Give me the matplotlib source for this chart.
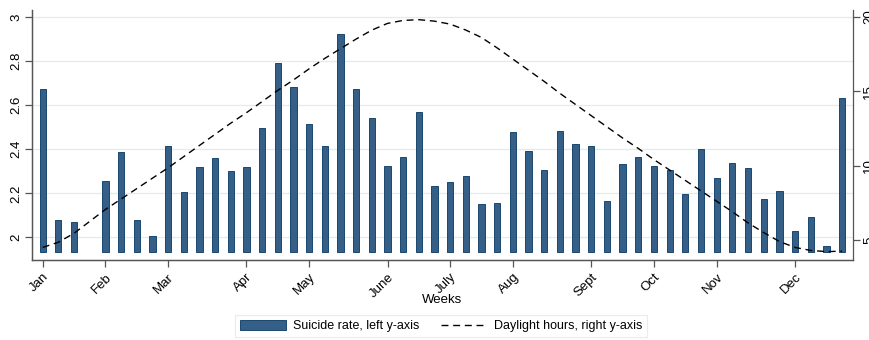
import numpy as np
import matplotlib as mpl
from matplotlib import pyplot as plt
from matplotlib.ticker import FuncFormatter

# weekly series, week 1..52 (week 4 has no value)
weeks = list(range(1, 53))
suicide_rate = [
    2.673, 2.080, 2.071, np.nan, 2.255, 2.389, 2.080, 2.006, 2.414, 2.205,
    2.320, 2.359, 2.300, 2.320, 2.498, 2.794, 2.683, 2.514, 2.415, 2.923,
    2.673, 2.544, 2.326, 2.365, 2.568, 2.235, 2.250, 2.280, 2.150, 2.156,
    2.479, 2.394, 2.305, 2.485, 2.424, 2.415, 2.165, 2.335, 2.365, 2.326,
    2.305, 2.195, 2.400, 2.270, 2.339, 2.315, 2.176, 2.211, 2.027, 2.091,
    1.962, 2.633,
]
daylight_hours = [
    4.50, 4.85, 5.45, 6.25, 7.05, 7.75, 8.45, 9.15, 9.85, 10.60,
    11.35, 12.10, 12.85, 13.55, 14.30, 15.05, 15.75, 16.50, 17.20, 17.85,
    18.50, 19.10, 19.55, 19.75, 19.80, 19.70, 19.50, 19.10, 18.60, 17.90,
    17.15, 16.40, 15.65, 14.85, 14.10, 13.35, 12.60, 11.85, 11.15, 10.40,
    9.70, 9.00, 8.30, 7.60, 6.90, 6.15, 5.50, 4.90, 4.50, 4.30,
    4.22, 4.25,
]
month_weeks = [1, 5, 9, 14, 18, 23, 27, 31, 36, 40, 44, 49]
month_labels = ['Jan', 'Feb', 'Mar', 'Apr', 'May', 'June', 'July', 'Aug',
                'Sept', 'Oct', 'Nov', 'Dec']
left_ticks = [2.0, 2.2, 2.4, 2.6, 2.8, 3.0]
right_ticks = [5, 10, 15, 20]

BAR_BASE = 1.932
BAR_FACE = '#365f88'
BAR_EDGE = '#1a476f'
GRID = '#e2eaef'
AXIS = '#555555'

mpl.rcParams.update({
    'font.family': ['Liberation Sans', 'DejaVu Sans'],
    'font.size': 9,
    'axes.linewidth': 0.9,
    'axes.edgecolor': AXIS,
})

fig = plt.figure(figsize=(8.7, 3.4), dpi=100)
ax = fig.add_axes([0.0368, 0.2353, 0.9437, 0.7353])
ax2 = ax.twinx()

# suicide rate bars on the left axis
heights = [v - BAR_BASE for v in suicide_rate]
ax.bar(weeks, heights, bottom=BAR_BASE, width=0.4, color=BAR_FACE,
       edgecolor=BAR_EDGE, linewidth=0.7, zorder=2,
       label='Suicide rate, left y-axis')

# daylight hours on the right axis
ax2.plot(weeks, daylight_hours, color='black', linewidth=1.0,
         linestyle=(0, (5, 3.4)), label='Daylight hours, right y-axis')

ax.set_xlim(0.32, 52.7)
ax.set_ylim(1.897, 3.033)
ax2.set_ylim(3.657, 20.45)

ax.set_yticks(left_ticks)
ax.yaxis.set_major_formatter(FuncFormatter(lambda v, p: '%g' % round(v, 1)))
ax.grid(True, axis='y', color=GRID, linewidth=0.9, zorder=0)
ax.set_axisbelow(True)
ax2.set_yticks(right_ticks)

ax.set_xticks(month_weeks)
ax.set_xticklabels(month_labels, rotation=45, ha='right',
                   rotation_mode='anchor')
ax.set_xlabel('Weeks', fontsize=9.5, va='center')
ax.xaxis.set_label_coords(0.5, -0.162)

for a in (ax, ax2):
    a.spines['top'].set_visible(False)
    a.tick_params(direction='out', length=5, width=0.9, color=AXIS,
                  labelsize=9.5)
ax.spines['right'].set_visible(False)
ax.tick_params(axis='y', pad=2)
ax.tick_params(axis='x', pad=3)
ax2.tick_params(axis='y', pad=2.5)
for lbl in ax.get_yticklabels() + ax2.get_yticklabels():
    lbl.set_rotation(90)
    lbl.set_va('center')

# combined legend below the plot
h1, l1 = ax.get_legend_handles_labels()
h2, l2 = ax2.get_legend_handles_labels()
leg = fig.legend(h1 + h2, l1 + l2, loc='center', ncol=2,
                 bbox_to_anchor=(0.507, 0.041), frameon=True, fancybox=False,
                 edgecolor='#e6e6e6', fontsize=9, handlelength=3.7,
                 handleheight=0.95, columnspacing=1.7, borderpad=0.4,
                 handletextpad=0.55)
leg.get_frame().set_linewidth(0.8)

plt.savefig('out.png', dpi=100)
